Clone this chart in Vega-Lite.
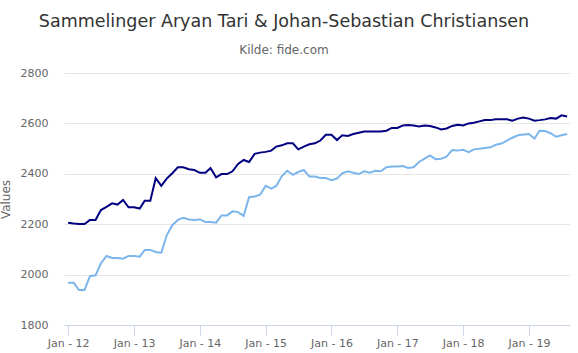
{
  "$schema": "https://vega.github.io/schema/vega-lite/v6.json",
  "width": 506,
  "height": 252,
  "autosize": {"type": "none"},
  "padding": {"left": 64, "top": 73, "right": 8, "bottom": 28},
  "background": "#ffffff",
  "config": {"view": {"stroke": null}, "font": "DejaVu Sans"},
  "title": {
    "text": "Sammelinger Aryan Tari & Johan-Sebastian Christiansen",
    "subtitle": "Kilde: fide.com",
    "anchor": "middle",
    "frame": "group",
    "dx": -33,
    "font": "DejaVu Sans",
    "fontSize": 17.5,
    "fontWeight": "normal",
    "color": "#333333",
    "subtitleFont": "DejaVu Sans",
    "subtitleFontSize": 12,
    "subtitleColor": "#666666",
    "subtitlePadding": 15,
    "offset": 11
  },
  "data": {
    "values": [
      {"d": "2012-01-01", "Aryan Tari": 2206, "Johan-Sebastian Christiansen": 1968},
      {"d": "2012-02-01", "Aryan Tari": 2203, "Johan-Sebastian Christiansen": 1968},
      {"d": "2012-03-01", "Aryan Tari": 2201, "Johan-Sebastian Christiansen": 1939},
      {"d": "2012-04-01", "Aryan Tari": 2201, "Johan-Sebastian Christiansen": 1939},
      {"d": "2012-05-01", "Aryan Tari": 2217, "Johan-Sebastian Christiansen": 1994},
      {"d": "2012-06-01", "Aryan Tari": 2217, "Johan-Sebastian Christiansen": 1997},
      {"d": "2012-07-01", "Aryan Tari": 2256, "Johan-Sebastian Christiansen": 2045},
      {"d": "2012-08-01", "Aryan Tari": 2269, "Johan-Sebastian Christiansen": 2074},
      {"d": "2012-09-01", "Aryan Tari": 2283, "Johan-Sebastian Christiansen": 2066},
      {"d": "2012-10-01", "Aryan Tari": 2278, "Johan-Sebastian Christiansen": 2066},
      {"d": "2012-11-01", "Aryan Tari": 2296, "Johan-Sebastian Christiansen": 2063},
      {"d": "2012-12-01", "Aryan Tari": 2267, "Johan-Sebastian Christiansen": 2074},
      {"d": "2013-01-01", "Aryan Tari": 2267, "Johan-Sebastian Christiansen": 2074},
      {"d": "2013-02-01", "Aryan Tari": 2262, "Johan-Sebastian Christiansen": 2071},
      {"d": "2013-03-01", "Aryan Tari": 2293, "Johan-Sebastian Christiansen": 2098},
      {"d": "2013-04-01", "Aryan Tari": 2293, "Johan-Sebastian Christiansen": 2098},
      {"d": "2013-05-01", "Aryan Tari": 2383, "Johan-Sebastian Christiansen": 2090},
      {"d": "2013-06-01", "Aryan Tari": 2352, "Johan-Sebastian Christiansen": 2087},
      {"d": "2013-07-01", "Aryan Tari": 2381, "Johan-Sebastian Christiansen": 2156},
      {"d": "2013-08-01", "Aryan Tari": 2402, "Johan-Sebastian Christiansen": 2196},
      {"d": "2013-09-01", "Aryan Tari": 2426, "Johan-Sebastian Christiansen": 2217},
      {"d": "2013-10-01", "Aryan Tari": 2426, "Johan-Sebastian Christiansen": 2225},
      {"d": "2013-11-01", "Aryan Tari": 2418, "Johan-Sebastian Christiansen": 2219},
      {"d": "2013-12-01", "Aryan Tari": 2415, "Johan-Sebastian Christiansen": 2217},
      {"d": "2014-01-01", "Aryan Tari": 2404, "Johan-Sebastian Christiansen": 2219},
      {"d": "2014-02-01", "Aryan Tari": 2404, "Johan-Sebastian Christiansen": 2209},
      {"d": "2014-03-01", "Aryan Tari": 2423, "Johan-Sebastian Christiansen": 2209},
      {"d": "2014-04-01", "Aryan Tari": 2386, "Johan-Sebastian Christiansen": 2206},
      {"d": "2014-05-01", "Aryan Tari": 2399, "Johan-Sebastian Christiansen": 2235},
      {"d": "2014-06-01", "Aryan Tari": 2399, "Johan-Sebastian Christiansen": 2235},
      {"d": "2014-07-01", "Aryan Tari": 2410, "Johan-Sebastian Christiansen": 2251},
      {"d": "2014-08-01", "Aryan Tari": 2439, "Johan-Sebastian Christiansen": 2248},
      {"d": "2014-09-01", "Aryan Tari": 2455, "Johan-Sebastian Christiansen": 2233},
      {"d": "2014-10-01", "Aryan Tari": 2447, "Johan-Sebastian Christiansen": 2307},
      {"d": "2014-11-01", "Aryan Tari": 2479, "Johan-Sebastian Christiansen": 2310},
      {"d": "2014-12-01", "Aryan Tari": 2484, "Johan-Sebastian Christiansen": 2317},
      {"d": "2015-01-01", "Aryan Tari": 2487, "Johan-Sebastian Christiansen": 2352},
      {"d": "2015-02-01", "Aryan Tari": 2492, "Johan-Sebastian Christiansen": 2341},
      {"d": "2015-03-01", "Aryan Tari": 2508, "Johan-Sebastian Christiansen": 2352},
      {"d": "2015-04-01", "Aryan Tari": 2513, "Johan-Sebastian Christiansen": 2391},
      {"d": "2015-05-01", "Aryan Tari": 2521, "Johan-Sebastian Christiansen": 2412},
      {"d": "2015-06-01", "Aryan Tari": 2521, "Johan-Sebastian Christiansen": 2396},
      {"d": "2015-07-01", "Aryan Tari": 2497, "Johan-Sebastian Christiansen": 2407},
      {"d": "2015-08-01", "Aryan Tari": 2508, "Johan-Sebastian Christiansen": 2415},
      {"d": "2015-09-01", "Aryan Tari": 2517, "Johan-Sebastian Christiansen": 2389},
      {"d": "2015-10-01", "Aryan Tari": 2521, "Johan-Sebastian Christiansen": 2389},
      {"d": "2015-11-01", "Aryan Tari": 2532, "Johan-Sebastian Christiansen": 2383},
      {"d": "2015-12-01", "Aryan Tari": 2555, "Johan-Sebastian Christiansen": 2383},
      {"d": "2016-01-01", "Aryan Tari": 2555, "Johan-Sebastian Christiansen": 2375},
      {"d": "2016-02-01", "Aryan Tari": 2534, "Johan-Sebastian Christiansen": 2381},
      {"d": "2016-03-01", "Aryan Tari": 2553, "Johan-Sebastian Christiansen": 2402},
      {"d": "2016-04-01", "Aryan Tari": 2550, "Johan-Sebastian Christiansen": 2410},
      {"d": "2016-05-01", "Aryan Tari": 2558, "Johan-Sebastian Christiansen": 2404},
      {"d": "2016-06-01", "Aryan Tari": 2563, "Johan-Sebastian Christiansen": 2399},
      {"d": "2016-07-01", "Aryan Tari": 2568, "Johan-Sebastian Christiansen": 2410},
      {"d": "2016-08-01", "Aryan Tari": 2568, "Johan-Sebastian Christiansen": 2404},
      {"d": "2016-09-01", "Aryan Tari": 2568, "Johan-Sebastian Christiansen": 2412},
      {"d": "2016-10-01", "Aryan Tari": 2568, "Johan-Sebastian Christiansen": 2410},
      {"d": "2016-11-01", "Aryan Tari": 2571, "Johan-Sebastian Christiansen": 2426},
      {"d": "2016-12-01", "Aryan Tari": 2582, "Johan-Sebastian Christiansen": 2429},
      {"d": "2017-01-01", "Aryan Tari": 2582, "Johan-Sebastian Christiansen": 2429},
      {"d": "2017-02-01", "Aryan Tari": 2592, "Johan-Sebastian Christiansen": 2431},
      {"d": "2017-03-01", "Aryan Tari": 2594, "Johan-Sebastian Christiansen": 2423},
      {"d": "2017-04-01", "Aryan Tari": 2592, "Johan-Sebastian Christiansen": 2426},
      {"d": "2017-05-01", "Aryan Tari": 2588, "Johan-Sebastian Christiansen": 2447},
      {"d": "2017-06-01", "Aryan Tari": 2592, "Johan-Sebastian Christiansen": 2460},
      {"d": "2017-07-01", "Aryan Tari": 2590, "Johan-Sebastian Christiansen": 2473},
      {"d": "2017-08-01", "Aryan Tari": 2584, "Johan-Sebastian Christiansen": 2458},
      {"d": "2017-09-01", "Aryan Tari": 2576, "Johan-Sebastian Christiansen": 2460},
      {"d": "2017-10-01", "Aryan Tari": 2580, "Johan-Sebastian Christiansen": 2468},
      {"d": "2017-11-01", "Aryan Tari": 2590, "Johan-Sebastian Christiansen": 2494},
      {"d": "2017-12-01", "Aryan Tari": 2595, "Johan-Sebastian Christiansen": 2492},
      {"d": "2018-01-01", "Aryan Tari": 2592, "Johan-Sebastian Christiansen": 2495},
      {"d": "2018-02-01", "Aryan Tari": 2600, "Johan-Sebastian Christiansen": 2486},
      {"d": "2018-03-01", "Aryan Tari": 2603, "Johan-Sebastian Christiansen": 2497},
      {"d": "2018-04-01", "Aryan Tari": 2608, "Johan-Sebastian Christiansen": 2499},
      {"d": "2018-05-01", "Aryan Tari": 2613, "Johan-Sebastian Christiansen": 2502},
      {"d": "2018-06-01", "Aryan Tari": 2613, "Johan-Sebastian Christiansen": 2505},
      {"d": "2018-07-01", "Aryan Tari": 2616, "Johan-Sebastian Christiansen": 2515},
      {"d": "2018-08-01", "Aryan Tari": 2616, "Johan-Sebastian Christiansen": 2520},
      {"d": "2018-09-01", "Aryan Tari": 2616, "Johan-Sebastian Christiansen": 2532},
      {"d": "2018-10-01", "Aryan Tari": 2611, "Johan-Sebastian Christiansen": 2543},
      {"d": "2018-11-01", "Aryan Tari": 2619, "Johan-Sebastian Christiansen": 2553},
      {"d": "2018-12-01", "Aryan Tari": 2623, "Johan-Sebastian Christiansen": 2556},
      {"d": "2019-01-01", "Aryan Tari": 2619, "Johan-Sebastian Christiansen": 2558},
      {"d": "2019-02-01", "Aryan Tari": 2611, "Johan-Sebastian Christiansen": 2540},
      {"d": "2019-03-01", "Aryan Tari": 2613, "Johan-Sebastian Christiansen": 2571},
      {"d": "2019-04-01", "Aryan Tari": 2616, "Johan-Sebastian Christiansen": 2570},
      {"d": "2019-05-01", "Aryan Tari": 2621, "Johan-Sebastian Christiansen": 2561},
      {"d": "2019-06-01", "Aryan Tari": 2619, "Johan-Sebastian Christiansen": 2547},
      {"d": "2019-07-01", "Aryan Tari": 2632, "Johan-Sebastian Christiansen": 2553},
      {"d": "2019-08-01", "Aryan Tari": 2627, "Johan-Sebastian Christiansen": 2558}
    ]
  },
  "transform": [{"fold": ["Aryan Tari", "Johan-Sebastian Christiansen"], "as": ["player", "rating"]}],
  "mark": {"type": "line", "strokeWidth": 2},
  "encoding": {
    "x": {
      "field": "d",
      "type": "temporal",
      "scale": {
        "type": "utc",
        "domain": [
          {"year": 2011, "month": 12, "date": 9, "utc": true},
          {"year": 2019, "month": 8, "date": 17, "utc": true}
        ]
      },
      "axis": {
        "values": [
          {"year": 2012, "month": 1, "date": 1, "utc": true},
          {"year": 2013, "month": 1, "date": 1, "utc": true},
          {"year": 2014, "month": 1, "date": 1, "utc": true},
          {"year": 2015, "month": 1, "date": 1, "utc": true},
          {"year": 2016, "month": 1, "date": 1, "utc": true},
          {"year": 2017, "month": 1, "date": 1, "utc": true},
          {"year": 2018, "month": 1, "date": 1, "utc": true},
          {"year": 2019, "month": 1, "date": 1, "utc": true}
        ],
        "labelExpr": "utcFormat(datum.value, '%b - %y')",
        "grid": false,
        "domainColor": "#ccd6eb",
        "tickColor": "#ccd6eb",
        "tickSize": 10,
        "labelColor": "#666666",
        "labelFont": "DejaVu Sans",
        "labelFontSize": 11,
        "labelPadding": 2,
        "labelFlush": false,
        "labelOverlap": false,
        "title": null
      }
    },
    "y": {
      "field": "rating",
      "type": "quantitative",
      "scale": {"domain": [1800, 2800], "nice": false, "zero": false},
      "axis": {
        "values": [1800, 2000, 2200, 2400, 2600, 2800],
        "format": "d",
        "grid": true,
        "gridColor": "#e6e6e6",
        "domain": false,
        "ticks": false,
        "labelColor": "#666666",
        "labelFont": "DejaVu Sans",
        "labelFontSize": 11,
        "labelPadding": 16,
        "title": "Values",
        "titleColor": "#666666",
        "titleFont": "DejaVu Sans",
        "titleFontSize": 12,
        "titleFontWeight": "normal",
        "titlePadding": 8
      }
    },
    "color": {
      "field": "player",
      "type": "nominal",
      "scale": {"domain": ["Aryan Tari", "Johan-Sebastian Christiansen"], "range": ["#000080", "#7cb5ec"]},
      "legend": null
    }
  }
}
